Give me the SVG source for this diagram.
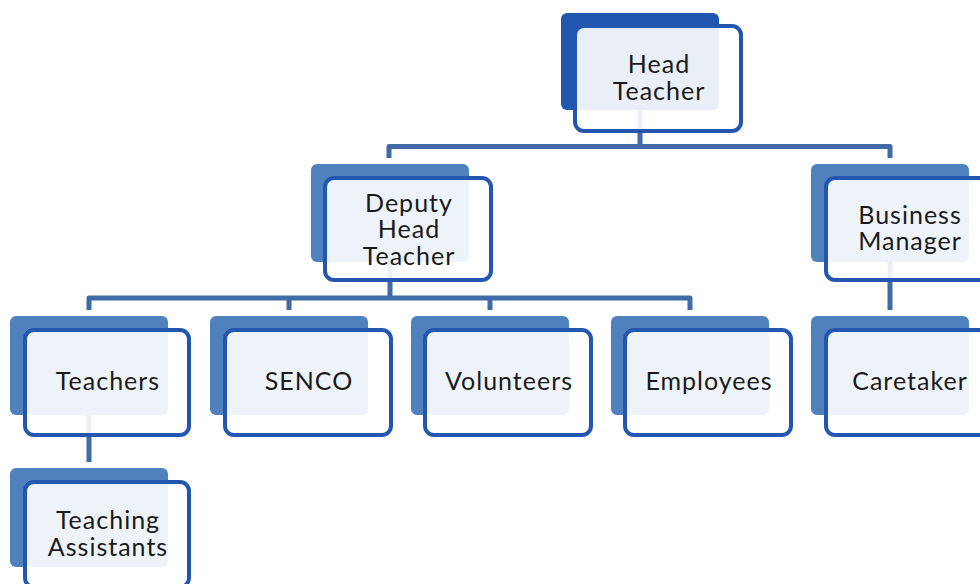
<svg xmlns="http://www.w3.org/2000/svg" width="980" height="584" viewBox="0 0 980 584">
<style>
.conn{fill:none;stroke:#416ba6;stroke-width:5;stroke-linejoin:round}
.back{fill:#4f81bd}
.back.top{fill:#2257b1}
.box{fill:#ffffff;fill-opacity:0.9;stroke:#2356b0;stroke-width:4}
.lbl{font-family:Lato,"Open Sans","Noto Sans",sans-serif;font-size:25px;letter-spacing:1px;fill:#1a1a1a;text-anchor:middle}
</style>
<rect width="980" height="584" fill="#ffffff"/>
<g id="connectors">
<path class="conn" d="M640,110 V146.5"/>
<path class="conn" d="M389,158 V146.5 H890 V158"/>
<path class="conn" d="M390,262 V298"/>
<path class="conn" d="M89,310 V298 H690 V310"/>
<path class="conn" d="M289,298 V310"/>
<path class="conn" d="M490,298 V310"/>
<path class="conn" d="M890,262 V310"/>
<path class="conn" d="M89,415 V462"/>
</g>
<g id="head-teacher">
<rect class="back top" x="561" y="13" width="158" height="97" rx="6"/>
<rect class="box" x="575" y="26" width="166" height="105" rx="9"/>
<text class="lbl" x="659" y="73">Head</text>
<text class="lbl" x="659" y="100">Teacher</text>
</g>
<g id="deputy-head-teacher">
<rect class="back" x="311" y="164" width="158" height="98" rx="6"/>
<rect class="box" x="325" y="178" width="166" height="102" rx="9"/>
<text class="lbl" x="409" y="211.5">Deputy</text>
<text class="lbl" x="409" y="238">Head</text>
<text class="lbl" x="409" y="264.5">Teacher</text>
</g>
<g id="business-manager">
<rect class="back" x="811" y="164" width="158" height="98" rx="6"/>
<rect class="box" x="826" y="178" width="166" height="102" rx="9"/>
<text class="lbl" x="910" y="224">Business</text>
<text class="lbl" x="910" y="250">Manager</text>
</g>
<g id="teachers">
<rect class="back" x="10" y="316" width="158" height="99" rx="6"/>
<rect class="box" x="25" y="330" width="164" height="105" rx="9"/>
<text class="lbl" x="108" y="390">Teachers</text>
</g>
<g id="senco">
<rect class="back" x="210" y="316" width="158" height="99" rx="6"/>
<rect class="box" x="225" y="330" width="166" height="105" rx="9"/>
<text class="lbl" x="309" y="390">SENCO</text>
</g>
<g id="volunteers">
<rect class="back" x="411" y="316" width="158" height="99" rx="6"/>
<rect class="box" x="425" y="330" width="166" height="105" rx="9"/>
<text class="lbl" x="509" y="390">Volunteers</text>
</g>
<g id="employees">
<rect class="back" x="611" y="316" width="158" height="99" rx="6"/>
<rect class="box" x="625" y="330" width="166" height="105" rx="9"/>
<text class="lbl" x="709" y="390">Employees</text>
</g>
<g id="caretaker">
<rect class="back" x="811" y="316" width="158" height="99" rx="6"/>
<rect class="box" x="826" y="330" width="166" height="105" rx="9"/>
<text class="lbl" x="910" y="390">Caretaker</text>
</g>
<g id="teaching-assistants">
<rect class="back" x="10" y="468" width="158" height="99" rx="6"/>
<rect class="box" x="25" y="482" width="164" height="105" rx="9"/>
<text class="lbl" x="108" y="529">Teaching</text>
<text class="lbl" x="108" y="555.5">Assistants</text>
</g>
</svg>
